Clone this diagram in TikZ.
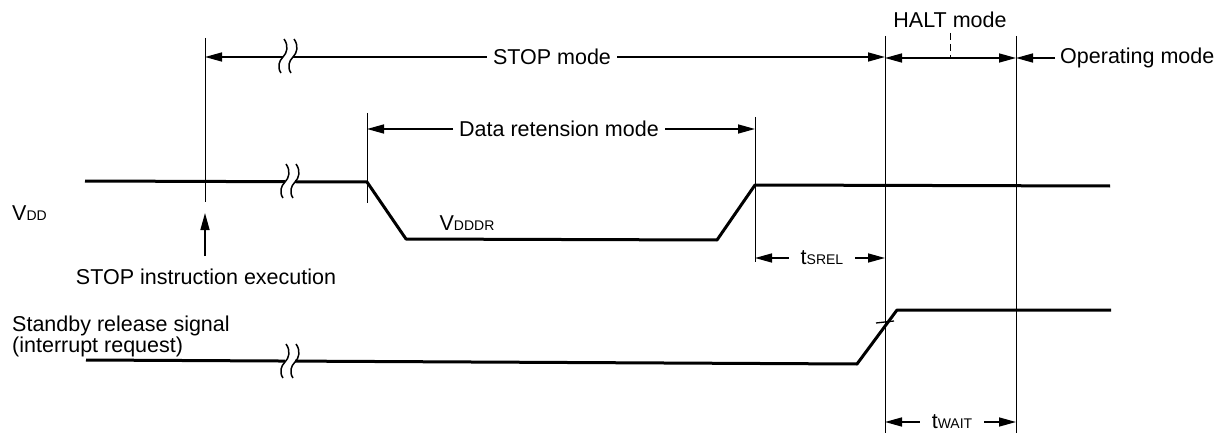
\documentclass[tikz,border=0pt]{standalone}
\usepackage{fontspec}
\setmainfont{Liberation Sans}
\usetikzlibrary{arrows.meta}
\newcommand\smc[1]{{\fontsize{14}{14}\selectfont #1}}
\begin{document}
\begin{tikzpicture}[x=1pt,y=-1pt,
  sig/.style={line width=3pt, line join=round},
  guide/.style={line width=0.9pt},
  dim/.style={line width=1.5pt},
  tip/.style={-{Triangle[length=17pt,width=9pt]}},
  lbl/.style={font=\fontsize{21.5}{22}\selectfont, inner sep=0pt},
  gaplbl/.style={lbl, inner xsep=6pt},
  widegap/.style={lbl, inner xsep=12pt},
  brk/.pic={
    \fill[white] (-5,-4) rectangle (5,4);
    \foreach \dx in {-5,5}
      \draw[line width=1.5pt, shift={(\dx,0)}] (1,-17) .. controls (6,-10) and (4,-3) .. (0,1) .. controls (-4,5) and (-6,11) .. (-2,17);
  }]
\useasboundingbox (0,0) rectangle (1221,433);

% guide lines
\coordinate (s1t) at (205,38);  \coordinate (s1b) at (205,202);
\coordinate (d1t) at (367,113); \coordinate (d1b) at (367,203);
\coordinate (d2t) at (755,117); \coordinate (d2b) at (755,262);
\coordinate (h1t) at (885,36);  \coordinate (h1b) at (885,433);
\coordinate (h2t) at (1016,36); \coordinate (h2b) at (1016,433);
\draw[guide] (s1t) -- (s1b);
\draw[guide] (d1t) -- (d1b);
\draw[guide] (d2t) -- (d2b);
\draw[guide] (h1t) -- (h1b);
\draw[guide] (h2t) -- (h2b);

% VDD signal
\coordinate (v0) at (85,181);
\coordinate (v1) at (367,182);
\coordinate (v2) at (406,239);
\coordinate (v3) at (717,240);
\coordinate (v4) at (755,185);
\coordinate (v5) at (1110,186);
\draw[sig] (v0) -- (v1) -- (v2) -- (v3) -- (v4) -- (v5);

% Standby release signal
\coordinate (r0) at (86,360);
\coordinate (r1) at (857,364);
\coordinate (r2) at (897,310);
\coordinate (r3) at (1111,310);
\draw[sig] (r0) -- (r1) -- (r2) -- (r3);
\coordinate (k0) at (876,323);
\coordinate (k1) at (894,321);
\draw[line width=1.3pt] (k0) -- (k1);

% STOP mode
\node[gaplbl] (stopm) at (552,57) {STOP mode};
\coordinate (stopL) at (205,57);
\coordinate (stopR) at (885,57);
\draw[dim,tip] (stopm.west) -- (stopL);
\draw[dim,tip] (stopm.east) -- (stopR);

% Data retension mode
\node[gaplbl] (datam) at (559,129) {Data retension mode};
\coordinate (dataL) at (367,129);
\coordinate (dataR) at (755,129);
\draw[dim,tip] (datam.west) -- (dataL);
\draw[dim,tip] (datam.east) -- (dataR);

% HALT mode
\node[lbl] (halt) at (950,20) {HALT mode};
\coordinate (hm) at (950,58);
\coordinate (hmt) at (950,33);
\coordinate (haltL) at (885,58);
\coordinate (haltR) at (1016,58);
\draw[guide, dash pattern=on 7pt off 4pt] (hmt) -- (hm);
\draw[dim,tip] (hm) -- (haltL);
\draw[dim,tip] (hm) -- (haltR);

% Operating mode
\node[lbl, anchor=west, inner xsep=5pt] (opm) at (1055,58) {Operating mode};
\draw[dim,tip] (opm.west) -- (haltR);

% tSREL
\node[widegap] (tsrel) at (822,258) {t\smc{SREL}};
\coordinate (tsL) at (755,258);
\coordinate (tsR) at (885,258);
\draw[dim,tip] (tsrel.west) -- (tsL);
\draw[dim,tip] (tsrel.east) -- (tsR);

% tWAIT
\node[widegap] (twait) at (952,422) {t\smc{WAIT}};
\coordinate (twL) at (885,422);
\coordinate (twR) at (1016,422);
\draw[dim,tip] (twait.west) -- (twL);
\draw[dim,tip] (twait.east) -- (twR);

% STOP instruction execution
\node[lbl] (stopi) at (206,277) {STOP instruction execution};
\coordinate (siTip) at (205,213);
\coordinate (siBot) at (205,256);
\draw[dim,tip] (siBot) -- (siTip);

% signal labels
\node[lbl, anchor=west] (vdd) at (12,213) {V\smc{DD}};
\node[lbl] (vdddr) at (467,223) {V\smc{DDDR}};
\node[lbl, anchor=base west] (sb1) at (12,331) {Standby release signal};
\node[lbl, anchor=base west] (sb2) at (12,352) {(interrupt request)};

% break marks
\pic at (288,56) {brk};
\pic at (290,181) {brk};
\pic at (290,361) {brk};
\end{tikzpicture}
\end{document}
